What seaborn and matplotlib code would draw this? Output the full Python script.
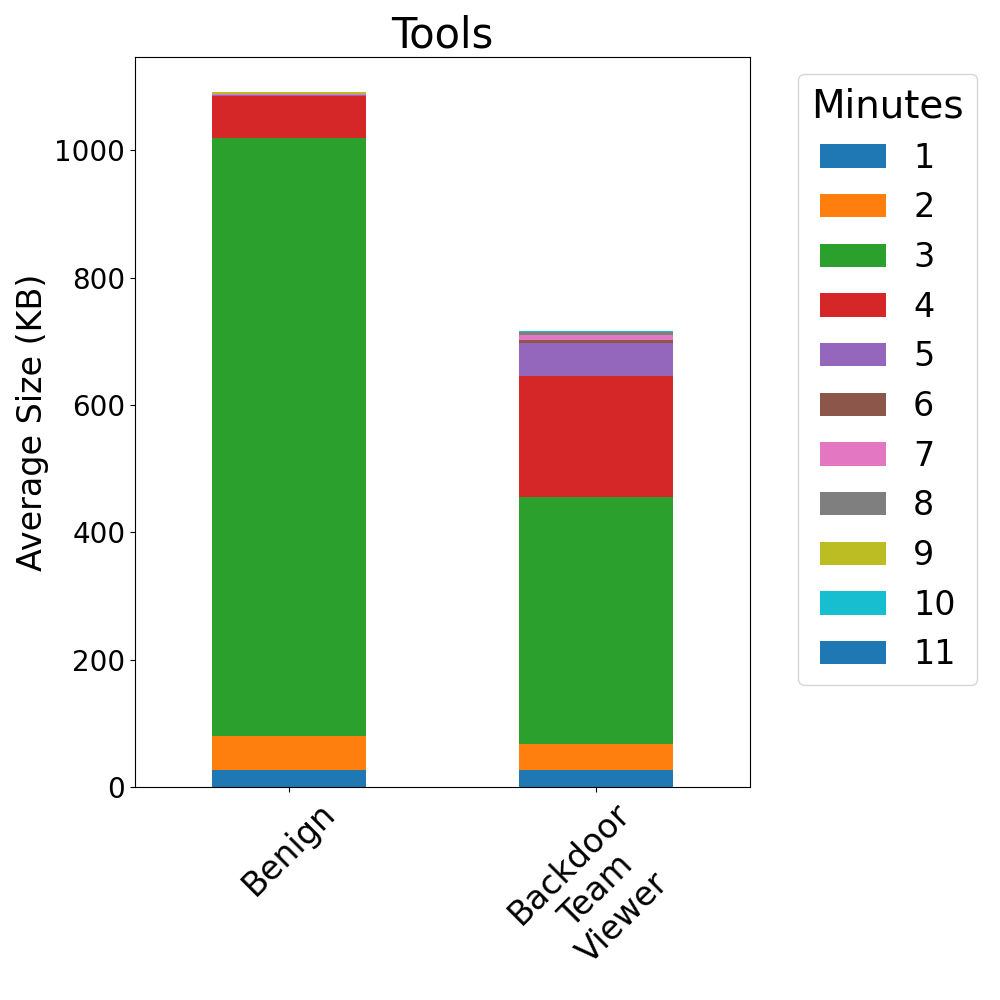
import matplotlib
matplotlib.use("Agg")
import matplotlib.pyplot as plt
from matplotlib.patches import Patch
import numpy as np
import pandas as pd
import seaborn as sns

categories = ["Benign", "Backdoor\nTeam\nViewer"]
minutes = ["1", "2", "3", "4", "5", "6", "7", "8", "9", "10", "11"]
benign = [27, 53, 940, 66, 1, 0.5, 0.5, 0.5, 3.7, 0, 0]
backdoor = [27, 41, 388, 189, 53, 4, 8, 5, 0, 1.5, 0]

palette = sns.color_palette("tab10", 10)
colors = [palette[i % 10] for i in range(len(minutes))]

vals = np.array([benign, backdoor])
cum = np.cumsum(vals, axis=1)

fig = plt.figure(figsize=(10, 10), dpi=100)
ax = fig.add_axes([0.135, 0.213, 0.615, 0.73])

# draw cumulative heights from top layer down so lower layers cover upper ones
for j in range(len(minutes) - 1, -1, -1):
    df = pd.DataFrame({"cat": categories, "val": cum[:, j]})
    sns.barplot(data=df, x="cat", y="val", color=colors[j], width=0.5,
                saturation=1, ax=ax, errorbar=None, linewidth=0)

ax.set_xlim(-0.5, 1.5)
ax.set_ylim(0, cum[:, -1].max() * 1.05)
ax.set_title("Tools", fontsize=30)
ax.set_ylabel("Average Size (KB)", fontsize=24)
ax.set_xlabel("")
ax.tick_params(axis="y", labelsize=20)
ax.set_xticks(range(len(categories)))
ax.set_xticklabels(categories, rotation=45, fontsize=24, ha="center")

handles = [Patch(facecolor=colors[i], label=minutes[i]) for i in range(len(minutes))]
leg = ax.legend(handles=handles, title="Minutes", loc="upper left",
                bbox_to_anchor=(1.051, 1.0), fontsize=24, title_fontsize=28)

fig.savefig("out.png", dpi=100)
